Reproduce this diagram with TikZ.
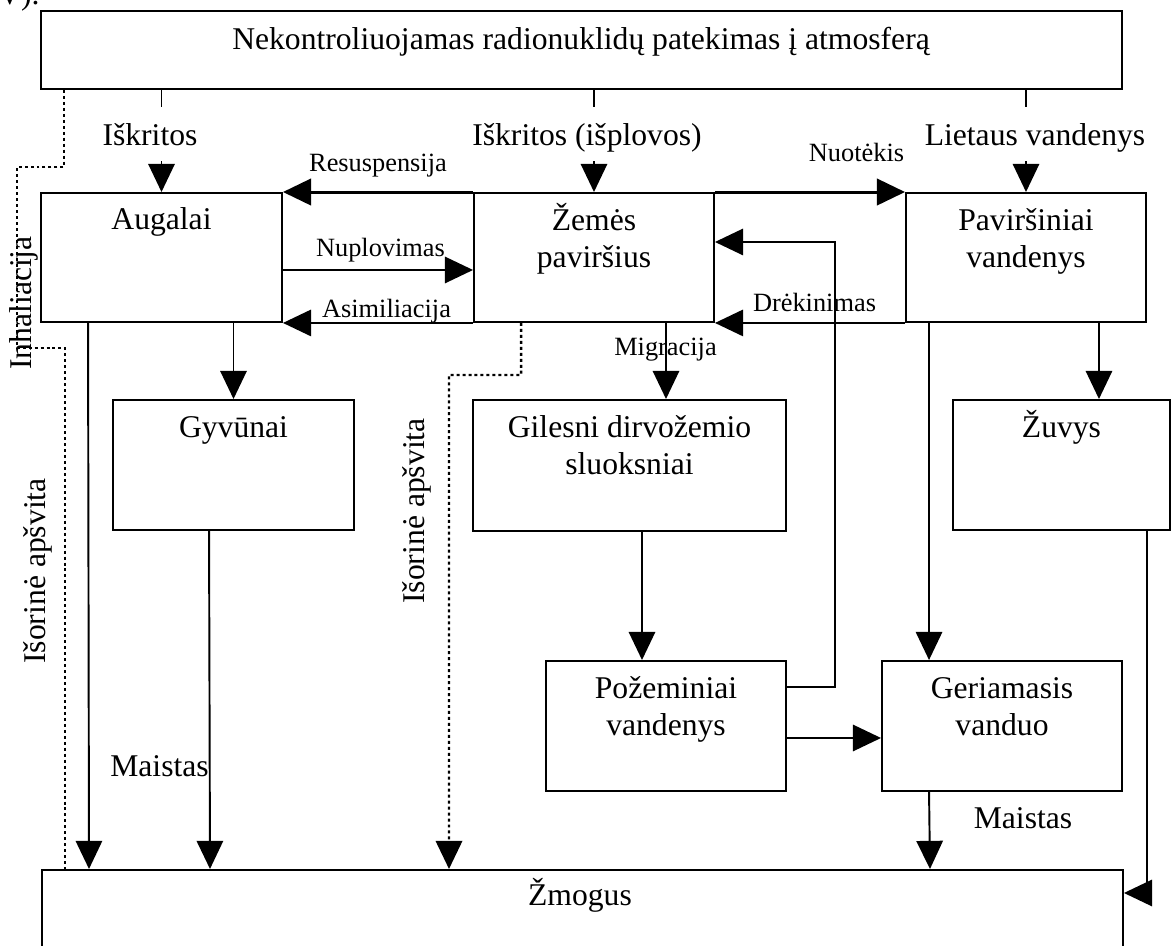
\documentclass[tikz,border=0pt]{standalone}
\usepackage{fontspec}
\setmainfont{Liberation Serif}
\usetikzlibrary{arrows.meta}

\begin{document}
\begin{tikzpicture}[
	box/.style={draw, line width=1.1pt, inner sep=0pt},
	txt/.style={font=\fontsize{18}{21.6}\selectfont, align=center, inner sep=0pt, anchor=base},
	small/.style={font=\fontsize{15}{18}\selectfont, inner sep=0pt, anchor=base},
	fall/.style={font=\fontsize{18}{21.6}\selectfont, inner sep=0pt, anchor=base, text height=0.78cm, text depth=0.30cm},
	arr/.style={line width=1.1pt, -{Triangle[length=16pt,width=15pt]}},
	thickarr/.style={line width=1.7pt, -{Triangle[length=16pt,width=15pt]}},
	expo/.style={line width=1.4pt, dash pattern=on 1.7pt off 1.7pt},
]
\useasboundingbox (0,0) rectangle (23.44,18.92);
% the boxes
\node[box, minimum width=21.62cm, minimum height=1.56cm] (src) at (11.63,17.92) {};
\node[box, minimum width=4.82cm, minimum height=2.58cm] (aug) at (3.23,13.77) {};
\node[box, minimum width=4.80cm, minimum height=2.58cm] (zem) at (11.88,13.77) {};
\node[box, minimum width=4.80cm, minimum height=2.58cm] (pav) at (20.52,13.77) {};
\node[box, minimum width=4.82cm, minimum height=2.60cm] (gyv) at (4.67,9.62) {};
\node[box, minimum width=6.26cm, minimum height=2.62cm] (gil) at (12.59,9.61) {};
\node[box, minimum width=4.34cm, minimum height=2.60cm] (zuv) at (21.23,9.62) {};
\node[box, minimum width=4.80cm, minimum height=2.60cm] (poz) at (13.32,4.40) {};
\node[box, minimum width=4.80cm, minimum height=2.60cm] (ger) at (20.04,4.40) {};
\node[box, minimum width=21.62cm, minimum height=2cm, anchor=north west] (zmo) at (0.82,1.54) {};
% texts of the boxes (two lines: last baseline)
\node[txt, anchor=base west] (frag) at (-0.04,18.82) {V).};
\node[txt] (srct) at (11.62,17.92) {Nekontroliuojamas radionuklidų patekimas į atmosferą};
\node[txt] (augt) at (3.23,14.32) {Augalai};
\node[txt] (zemt) at (11.88,13.56) {Žemės\\paviršius};
\node[txt] (pavt) at (20.52,13.56) {Paviršiniai\\vandenys};
\node[txt] (gyvt) at (4.67,10.16) {Gyvūnai};
\node[txt] (gilt) at (12.59,9.42) {Gilesni dirvožemio\\sluoksniai};
\node[txt] (zuvt) at (21.23,10.16) {Žuvys};
\node[txt] (pozt) at (13.32,4.20) {Požeminiai\\vandenys};
\node[txt] (gert) at (20.04,4.20) {Geriamasis\\vanduo};
\node[txt] (zmot) at (11.60,0.80) {Žmogus};
% labels
\node[fall] (isk) at (3.00,16.00) {Iškritos};
\node[fall] (ispl) at (11.74,16.00) {Iškritos (išplovos)};
\node[fall] (liet) at (20.70,16.00) {Lietaus vandenys};
\node[small] (resu) at (7.56,15.48) {Resuspensija};
\node[small] (nupl) at (7.61,13.78) {Nuplovimas};
\node[small] (asim) at (7.73,12.56) {Asimiliacija};
\node[small] (nuot) at (17.13,15.68) {Nuotėkis};
\node[small] (drek) at (16.29,12.68) {Drėkinimas};
\node[small] (migr) at (13.31,11.80) {Migracija};
\node[txt] (mai1) at (3.19,3.38) {Maistas};
\node[txt] (mai2) at (20.46,2.34) {Maistas};
\node[txt, rotate=90] (inh) at (0.62,12.86) {Inhaliacija};
\node[txt, rotate=90] (iso1) at (0.90,7.50) {Išorinė apšvita};
\node[txt, rotate=90] (iso2) at (8.48,8.70) {Išorinė apšvita};
% fallout
\draw[line width=1.1pt] (src.south -| aug.north) -- (isk.north -| aug.north);
\draw[arr] (isk.south -| aug.north) -- (aug.north);
\draw[line width=1.1pt] (src.south -| zem.north) -- (ispl.north -| zem.north);
\draw[arr] (ispl.south -| zem.north) -- (zem.north);
\draw[line width=1.1pt] (src.south -| pav.north) -- (liet.north -| pav.north);
\draw[arr] (liet.south -| pav.north) -- (pav.north);
% between plants, soil and water
\draw[thickarr] (zem.north west) -- (aug.north east);
\draw[arr] ([yshift=-0.25cm]aug.east) -- ([yshift=-0.25cm]zem.west);
\draw[arr] (zem.south west) -- (aug.south east);
\draw[thickarr] (zem.north east) -- (pav.north west);
\draw[arr] (pav.south west) -- (zem.south east);
\draw[arr] ([yshift=0.78cm]poz.east) -- ++(0.96,0) |- ([yshift=0.31cm]zem.east);
% downwards
\draw[arr] (aug.south -| gyv.north) -- (gyv.north);
\draw[arr] (zem.south -| poz.north) -- (gil.north -| poz.north);
\draw[arr] ([xshift=0.25cm]gil.south) -- ([xshift=-0.48cm]poz.north);
\draw[arr] ([yshift=-0.24cm]poz.east) -- ([yshift=-0.24cm]ger.west);
\draw[arr] ([xshift=0.48cm]pav.south west) -- ([xshift=0.96cm]ger.north west);
\draw[arr] ([xshift=-0.96cm]pav.south east) -- ([xshift=-1.44cm]zuv.north east);
% to man
\draw[arr] ([xshift=0.96cm]aug.south west) -- ([xshift=0.96cm]zmo.north west);
\draw[arr] ([xshift=1.94cm]gyv.south west) -- ([xshift=3.38cm]zmo.north west);
\draw[arr] ([xshift=0.96cm]ger.south west) -- ([xshift=17.78cm]zmo.north west);
\draw[arr] ([xshift=-0.48cm]zuv.south east) |- ([yshift=-0.48cm]zmo.north east);
% exposure, dotted
\draw[expo] ([xshift=0.48cm]src.south west) |- (0.34,15.58) |- (1.30,11.96) -- ([xshift=0.48cm]zmo.north west);
\draw[expo, -{Triangle[length=16pt,width=15pt]}] ([xshift=0.96cm]zem.south west) |- (8.98,11.42) -- ([xshift=8.16cm]zmo.north west);
\end{tikzpicture}
\end{document}
